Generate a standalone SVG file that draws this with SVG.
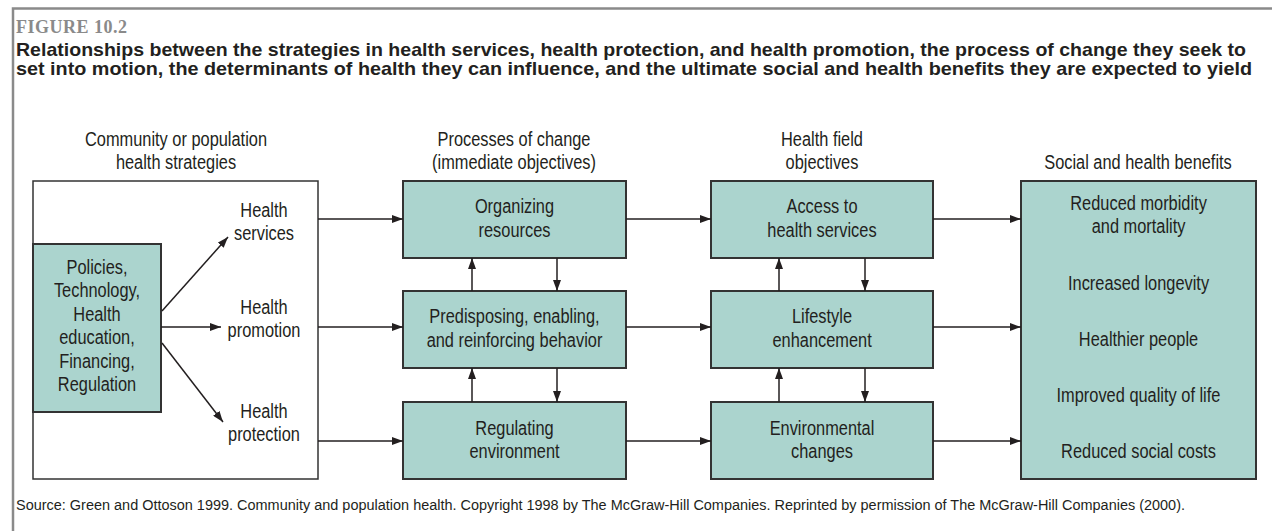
<svg xmlns="http://www.w3.org/2000/svg" width="1272" height="531" viewBox="0 0 1272 531">
<style>
.t{font-family:"Liberation Sans",Arial,sans-serif;font-size:21px;fill:#231f20;text-anchor:middle;transform-box:fill-box;transform-origin:center;transform:scaleX(0.78)}
.box{fill:#abd4ce;stroke:#333;stroke-width:2}
.wbox{fill:#fff;stroke:#333;stroke-width:1.5}
.c{stroke:#231f20;stroke-width:1.5;fill:none;marker-end:url(#ah)}
.ttl{font-family:"Liberation Sans",Arial,sans-serif;font-weight:bold;font-size:18.5px;fill:#231f20}
</style>
<defs>
<marker id="ah" markerUnits="userSpaceOnUse" markerWidth="11" markerHeight="8" refX="11" refY="4" orient="auto">
<path d="M0,0 L11,4 L0,8 z" fill="#231f20"/>
</marker>
</defs>
<rect width="1272" height="531" fill="#fff"/>
<path d="M13,531 V8.5 H1272" fill="none" stroke="#8a8a8a" stroke-width="2.5"/>
<g id="title">
<text x="16" y="33" font-family="Liberation Serif, serif" font-weight="bold" font-size="18" fill="#8a8a8a" textLength="111" lengthAdjust="spacing">FIGURE 10.2</text>
<text class="ttl" x="16" y="56" textLength="1230" lengthAdjust="spacingAndGlyphs">Relationships between the strategies in health services, health protection, and health promotion, the process of change they seek to</text>
<text class="ttl" x="16" y="75" textLength="1236" lengthAdjust="spacingAndGlyphs">set into motion, the determinants of health they can influence, and the ultimate social and health benefits they are expected to yield</text>
</g>
<g id="headings">
<text class="t" x="176" y="146">Community or population</text>
<text class="t" x="176" y="169">health strategies</text>
<text class="t" x="514" y="146">Processes of change</text>
<text class="t" x="514" y="169">(immediate objectives)</text>
<text class="t" x="822" y="146">Health field</text>
<text class="t" x="822" y="169">objectives</text>
<text class="t" x="1138" y="169">Social and health benefits</text>
</g>
<g id="strategies">
<rect class="wbox" x="33" y="181" width="285" height="298"/>
</g>
<g id="policies">
<rect class="box" x="33" y="244" width="128" height="168"/>
<text class="t" x="97" y="274">Policies,</text>
<text class="t" x="97" y="297.4">Technology,</text>
<text class="t" x="97" y="320.8">Health</text>
<text class="t" x="97" y="344.2">education,</text>
<text class="t" x="97" y="367.6">Financing,</text>
<text class="t" x="97" y="391">Regulation</text>
</g>
<g id="health-services">
<text class="t" x="264" y="217">Health</text>
<text class="t" x="264" y="240">services</text>
</g>
<g id="health-promotion">
<text class="t" x="264" y="314">Health</text>
<text class="t" x="264" y="337">promotion</text>
</g>
<g id="health-protection">
<text class="t" x="264" y="418">Health</text>
<text class="t" x="264" y="441">protection</text>
</g>
<g id="organizing">
<rect class="box" x="403" y="181" width="223" height="77"/>
<text class="t" x="514.5" y="213">Organizing</text>
<text class="t" x="514.5" y="237">resources</text>
</g>
<g id="predisposing">
<rect class="box" x="403" y="291" width="223" height="77"/>
<text class="t" x="514.5" y="323">Predisposing, enabling,</text>
<text class="t" x="514.5" y="347">and reinforcing behavior</text>
</g>
<g id="regulating">
<rect class="box" x="403" y="402" width="223" height="77"/>
<text class="t" x="514.5" y="435">Regulating</text>
<text class="t" x="514.5" y="458">environment</text>
</g>
<g id="access">
<rect class="box" x="711" y="181" width="222" height="77"/>
<text class="t" x="822" y="213">Access to</text>
<text class="t" x="822" y="237">health services</text>
</g>
<g id="lifestyle">
<rect class="box" x="711" y="291" width="222" height="77"/>
<text class="t" x="822" y="323">Lifestyle</text>
<text class="t" x="822" y="347">enhancement</text>
</g>
<g id="environmental">
<rect class="box" x="711" y="402" width="222" height="77"/>
<text class="t" x="822" y="435">Environmental</text>
<text class="t" x="822" y="458">changes</text>
</g>
<g id="benefits">
<rect class="box" x="1021" y="181" width="235" height="298"/>
<text class="t" x="1138.5" y="210">Reduced morbidity</text>
<text class="t" x="1138.5" y="233">and mortality</text>
<text class="t" x="1138.5" y="290">Increased longevity</text>
<text class="t" x="1138.5" y="346">Healthier people</text>
<text class="t" x="1138.5" y="402">Improved quality of life</text>
<text class="t" x="1138.5" y="458">Reduced social costs</text>
</g>
<g id="connectors">
<line class="c" x1="162" y1="311" x2="228" y2="237"/>
<line class="c" x1="161" y1="327" x2="221" y2="327"/>
<line class="c" x1="162" y1="343" x2="223" y2="422"/>
<line class="c" x1="318" y1="219" x2="403" y2="219"/>
<line class="c" x1="318" y1="327" x2="403" y2="327"/>
<line class="c" x1="318" y1="441" x2="403" y2="441"/>
<line class="c" x1="626" y1="219" x2="711" y2="219"/>
<line class="c" x1="626" y1="327" x2="711" y2="327"/>
<line class="c" x1="626" y1="441" x2="711" y2="441"/>
<line class="c" x1="933" y1="219" x2="1021" y2="219"/>
<line class="c" x1="933" y1="327" x2="1021" y2="327"/>
<line class="c" x1="933" y1="441" x2="1021" y2="441"/>
<line class="c" x1="472" y1="291" x2="472" y2="258"/>
<line class="c" x1="557" y1="258" x2="557" y2="291"/>
<line class="c" x1="472" y1="402" x2="472" y2="368"/>
<line class="c" x1="557" y1="368" x2="557" y2="402"/>
<line class="c" x1="779" y1="291" x2="779" y2="258"/>
<line class="c" x1="865" y1="258" x2="865" y2="291"/>
<line class="c" x1="779" y1="402" x2="779" y2="368"/>
<line class="c" x1="865" y1="368" x2="865" y2="402"/>
</g>
<g id="source">
<text x="16" y="510" font-family="Liberation Sans, Arial, sans-serif" font-size="15.5" fill="#231f20" textLength="1169" lengthAdjust="spacingAndGlyphs">Source: Green and Ottoson 1999. Community and population health. Copyright 1998 by The McGraw-Hill Companies. Reprinted by permission of The McGraw-Hill Companies (2000).</text>
</g>
</svg>
